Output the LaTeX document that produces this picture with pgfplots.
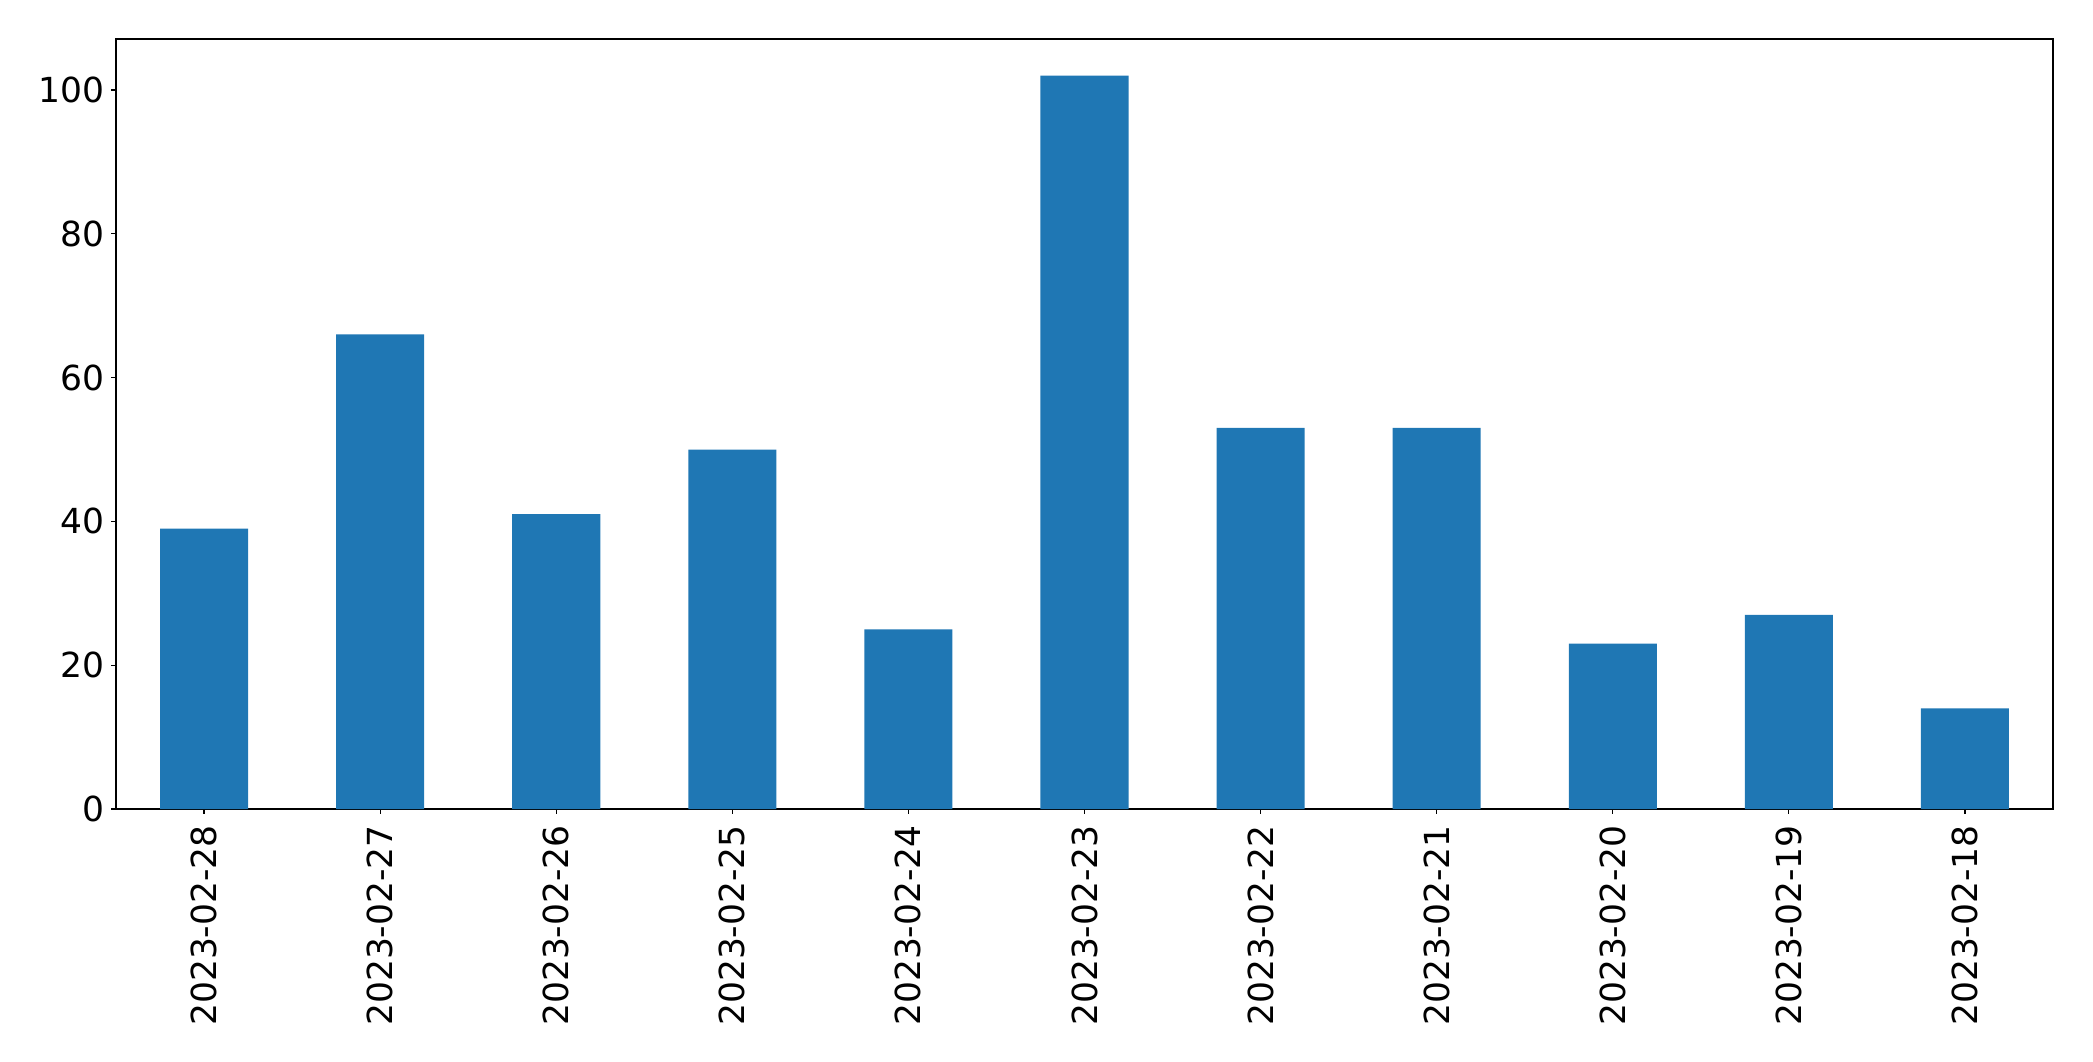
\documentclass[border=0pt]{standalone}
\usepackage{pgfplots}
\pgfplotsset{compat=1.18}
\usepackage{fontspec}
\setmainfont{DejaVu Sans}
\definecolor{mplblue}{HTML}{1F77B4}
\begin{document}
\begin{tikzpicture}
\useasboundingbox (-58pt,-126pt) rectangle (988.5pt,404.5pt);
\begin{axis}[
  at={(0,0)}, anchor=south west,
  scale only axis,
  width=968.5pt, height=385pt,
  xmin=-0.5, xmax=10.5,
  ymin=0, ymax=107.1,
  ybar, bar width=0.5, bar shift=0pt,
  xtick={0,...,10},
  xticklabels={2023-02-28,2023-02-27,2023-02-26,2023-02-25,2023-02-24,2023-02-23,2023-02-22,2023-02-21,2023-02-20,2023-02-19,2023-02-18},
  ytick={0,20,40,60,80,100},
  tick align=outside,
  major tick length=2.45pt,
  xtick pos=bottom, ytick pos=left,
  axis line style={line width=0.55pt},
  every tick/.style={black, line width=0.55pt},
  /pgf/number format/assume math mode=true,
  tick label style={font=\fontsize{17.25}{20}\selectfont},
  xticklabel style={rotate=90, anchor=east, inner sep=0pt, inner xsep=5.5pt},
  yticklabel style={inner sep=0pt, xshift=-3.2pt},
]
\addplot[fill=mplblue, draw=none] coordinates {
(0,39) (1,66) (2,41) (3,50) (4,25) (5,102) (6,53) (7,53) (8,23) (9,27) (10,14)
};
\end{axis}
\end{tikzpicture}
\end{document}
